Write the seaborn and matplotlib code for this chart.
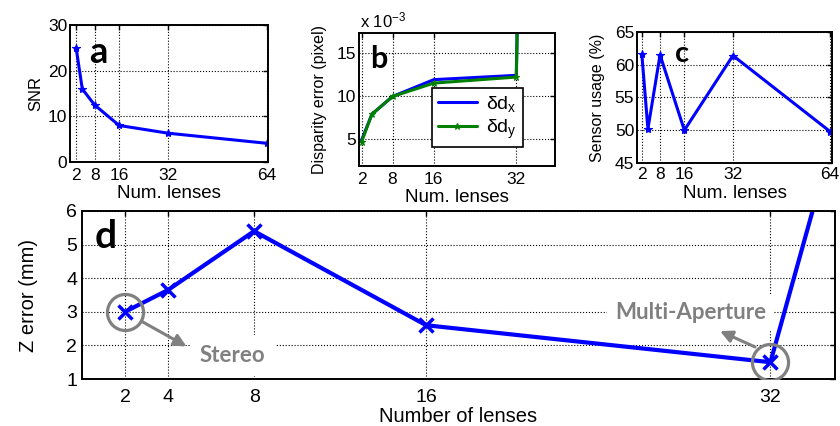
import matplotlib
matplotlib.use("Agg")
import matplotlib.pyplot as plt
import seaborn as sns

# values
lenses = [2, 4, 8, 16, 32, 64]
snr = [25.0, 16.0, 12.5, 8.0, 6.3, 4.1]
# disparity error in units of 1e-3 pixel (the 64-lens value is far off the chart)
disp_dx = [4.9, 7.9, 9.95, 11.9, 12.4, 1000.0]
disp_dy = [4.7, 7.9, 9.95, 11.5, 12.2, 1000.0]
sensor_usage = [61.6, 50.2, 61.5, 50.0, 61.4, 49.8]
z_error = [3.0, 3.65, 5.4, 2.6, 1.5, 75.0]

top_ticks = [2, 8, 16, 32, 64]
b_ticks = [2, 8, 16, 32]
d_ticks = [2, 4, 8, 16, 32]

BLUE = (0, 0, 1)
GREEN = (0, 0.5, 0)
GREY = "#808080"

sns.set_theme(style="white", rc={"axes.edgecolor": "black", "text.color": "black",
                                 "axes.labelcolor": "black", "xtick.color": "black",
                                 "ytick.color": "black"})
plt.rcParams["font.family"] = ["Liberation Sans", "DejaVu Sans"]
plt.rcParams["mathtext.fontset"] = "custom"
plt.rcParams["mathtext.rm"] = "Liberation Sans"
plt.rcParams["mathtext.it"] = "Liberation Sans:italic"
plt.rcParams["axes.axisbelow"] = True


def matlab_look(ax, tick_size, pad_x, pad_y):
    for s in ax.spines.values():
        s.set_linewidth(1.4)
        s.set_color("black")
    ax.grid(True, linestyle=":", color="black", linewidth=0.8)
    ax.tick_params(direction="in", top=True, right=True, length=3.5, width=1,
                   labelsize=tick_size)
    ax.tick_params(axis="x", pad=pad_x)
    ax.tick_params(axis="y", pad=pad_y)


def panel_letter(ax, letter, x, y, size):
    ax.text(x, y, letter, transform=ax.transAxes, fontsize=size, fontweight="bold",
            family=["Lato", "DejaVu Sans"], ha="left", va="baseline")


fig = plt.figure(figsize=(8.4, 4.26), dpi=100)

# --- a: SNR ---
ax_a = fig.add_axes([0.0833, 0.6197, 0.2357, 0.3216])
sns.lineplot(x=lenses, y=snr, ax=ax_a, color=BLUE, linewidth=2.2, marker="*",
             markersize=6, markeredgewidth=0.8, markeredgecolor=BLUE)
ax_a.set_xlim(0, 64.4)
ax_a.set_ylim(0, 30)
ax_a.set_xticks(top_ticks)
ax_a.set_yticks([0, 10, 20, 30])
matlab_look(ax_a, 12.5, 4, 2)
ax_a.set_xlabel("Num. lenses", fontsize=13.5, labelpad=2)
ax_a.set_ylabel("SNR", fontsize=12, labelpad=3)
panel_letter(ax_a, "a", 0.096, 0.723, 26)

# --- b: disparity error ---
ax_b = fig.add_axes([0.4274, 0.6103, 0.2333, 0.3122])
sns.lineplot(x=lenses, y=disp_dx, ax=ax_b, color=BLUE, linewidth=2.2,
             label=r"δd$_\mathrm{x}$")
sns.lineplot(x=lenses, y=disp_dy, ax=ax_b, color=GREEN, linewidth=2.2, marker="*",
             markersize=5, markeredgewidth=0.8, markeredgecolor=GREEN,
             label=r"δd$_\mathrm{y}$")
ax_b.set_xlim(1.5, 39.5)
ax_b.set_ylim(1.9, 17.3)
ax_b.set_xticks(b_ticks)
ax_b.set_yticks([5, 10, 15])
matlab_look(ax_b, 12.5, 4, 2)
ax_b.set_xlabel("Num. lenses", fontsize=13.5, labelpad=2)
ax_b.set_ylabel("Disparity error (pixel)", fontsize=11.5, labelpad=7)
ax_b.text(0.005, 1.04, r"x 10$^{-3}$", transform=ax_b.transAxes, fontsize=12,
          ha="left", va="baseline")
leg = ax_b.legend(loc="upper left", bbox_to_anchor=(0.372, 0.585), fontsize=14,
                  frameon=True, fancybox=False, edgecolor="black", framealpha=1,
                  handlelength=2.0, borderpad=0.3, labelspacing=0.2,
                  handletextpad=0.5, borderaxespad=0)
leg.get_frame().set_linewidth(1.2)
panel_letter(ax_b, "b", 0.056, 0.737, 22)

# --- c: sensor usage ---
ax_c = fig.add_axes([0.7583, 0.6174, 0.2321, 0.3075])
sns.lineplot(x=lenses, y=sensor_usage, ax=ax_c, color=BLUE, linewidth=2.2, marker="*",
             markersize=6, markeredgewidth=0.8, markeredgecolor=BLUE)
ax_c.set_xlim(0.4, 64.6)
ax_c.set_ylim(45, 65)
ax_c.set_xticks(top_ticks)
ax_c.set_yticks([45, 50, 55, 60, 65])
matlab_look(ax_c, 12.5, 3, 2)
ax_c.set_xlabel("Num. lenses", fontsize=13.5, labelpad=2)
ax_c.set_ylabel("Sensor usage (%)", fontsize=11.5, labelpad=7)
panel_letter(ax_c, "c", 0.195, 0.771, 21)

# --- d: Z error ---
ax_d = fig.add_axes([0.0976, 0.1103, 0.8964, 0.3944])
sns.lineplot(x=lenses, y=z_error, ax=ax_d, color=BLUE, linewidth=3, marker="x",
             markersize=10, markeredgewidth=2.5, markeredgecolor=BLUE)
ax_d.set_xlim(0, 35)
ax_d.set_ylim(1, 6)
ax_d.set_xticks(d_ticks)
ax_d.set_yticks([1, 2, 3, 4, 5, 6])
matlab_look(ax_d, 14, 7, 3.5)
ax_d.set_xlabel("Number of lenses", fontsize=14.5, labelpad=1)
ax_d.set_ylabel("Z error (mm)", fontsize=14.5, labelpad=20)
panel_letter(ax_d, "d", 0.017, 0.78, 28)

# highlight circles around stereo (2 lenses) and multi-aperture (32 lenses)
for i in (lenses.index(2), lenses.index(32)):
    ax_d.plot(lenses[i], z_error[i], marker="o", markersize=26, markerfacecolor="none",
              markeredgecolor=GREY, markeredgewidth=2.3, zorder=4)

ann_font = dict(fontsize=16, fontweight="bold", color=GREY, family=["Lato", "DejaVu Sans"],
                zorder=1.5)
ax_d.text(5.48, 1.51, "Stereo", ha="left", va="baseline",
          bbox=dict(boxstyle="square,pad=0.45", facecolor="white", edgecolor="none"),
          **ann_font)
ax_d.text(28.3, 2.79, "Multi-Aperture", ha="center", va="baseline",
          bbox=dict(boxstyle="square,pad=0.35", facecolor="white", edgecolor="none"),
          **ann_font)
arrow = dict(arrowstyle="-|>,head_length=0.6,head_width=0.3", color=GREY, lw=2.2)
ax_d.annotate("", xy=(4.97, 1.93), xytext=(2.65, 2.76), arrowprops=arrow, zorder=4)
ax_d.annotate("", xy=(29.54, 2.46), xytext=(31.4, 1.92), arrowprops=arrow, zorder=4)

fig.savefig("out.png", dpi=100)
